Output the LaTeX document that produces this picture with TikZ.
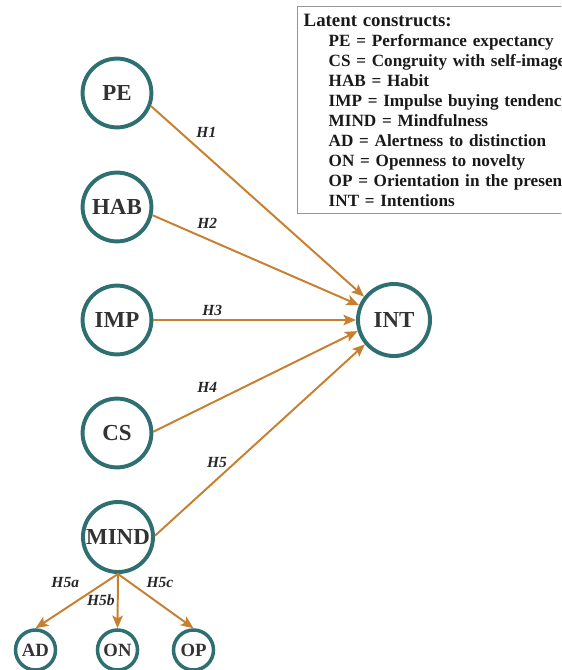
\documentclass[tikz,border=0pt]{standalone}
\usepackage{fontspec}
\setmainfont{Liberation Serif}
\usetikzlibrary{arrows.meta}
\definecolor{tealring}{RGB}{46,112,114}
\definecolor{pathorange}{RGB}{198,128,48}
\definecolor{keygray}{RGB}{150,150,150}
\begin{document}
\begin{tikzpicture}[x=0.025cm,y=-0.025cm,
  construct/.style={circle,draw=tealring,line width=2.8pt,minimum size=1.72cm,inner sep=0pt,text=black!80,font=\fontsize{16.3}{18}\selectfont\bfseries},
  subconstruct/.style={construct,minimum size=1cm,line width=2.5pt,font=\fontsize{13.3}{15}\selectfont\bfseries},
  hyp/.style={draw=pathorange,line width=1.4pt,-{Stealth[length=9pt,width=7.5pt,inset=2pt]}},
  hlabel/.style={inner sep=0pt,text=black!85,font=\fontsize{11}{13}\selectfont\bfseries\itshape}]

\clip (0,0) rectangle (561,670);

% Constructs
\node[construct] (PE) at (117,93) {PE};
\node[construct] (HAB) at (117,207) {HAB};
\node[construct] (IMP) at (117,320) {IMP};
\node[construct] (CS) at (117,433) {CS};
\node[construct,minimum size=1.75cm] (MIND) at (118,537) {MIND};
\node[construct,minimum size=1.8cm] (INT) at (394,320) {INT};

% Dimensions of mindfulness
\node[subconstruct] (AD) at (35.5,650) {AD};
\node[subconstruct] (ON) at (117.5,650) {ON};
\node[subconstruct] (OP) at (193.5,650) {OP};

% Hypotheses
\draw[hyp] (PE.-21) -- node[hlabel,pos=0.26,yshift=0.575cm] {H1} (INT.142);
\draw[hyp] (HAB.-13) -- node[hlabel,pos=0.265,yshift=0.4cm] {H2} (INT.157);
\draw[hyp] (IMP.east) -- node[hlabel,pos=0.29,yshift=0.25cm] {H3} (INT.180);
\draw[hyp] (CS.2) -- node[hlabel,pos=0.264,yshift=0.45cm] {H4} (INT.197);
\draw[hyp] (MIND.2) -- node[hlabel,pos=0.295,yshift=0.43cm] {H5} (INT.220);

\draw[hyp] (MIND.south) -- node[hlabel,pos=0.3,xshift=-0.7cm,yshift=0.2cm] {H5a} (AD.north);
\draw[hyp] (MIND.south) -- node[hlabel,pos=0.48,left=1.5pt] {H5b} (ON.north);
\draw[hyp] (MIND.south) -- node[hlabel,pos=0.3,xshift=0.48cm,yshift=0.2cm] {H5c} (OP.north);

% Legende
\node[draw=keygray,line width=1pt,anchor=north west,inner xsep=0.15cm,inner ysep=0pt,
  text width=8cm,minimum height=5.175cm,align=left,text=black!90,
  font=\fontsize{12.2}{14.23}\selectfont\bfseries] (key) at (297,6)
{{\fontsize{13.4}{14.23}\selectfont Latent constructs:}\\
\hspace*{0.625cm}PE = Performance expectancy\\
\hspace*{0.625cm}CS = Congruity with self-image\\
\hspace*{0.625cm}HAB = Habit\\
\hspace*{0.625cm}IMP = Impulse buying tendency\\
\hspace*{0.625cm}MIND = Mindfulness\\
\hspace*{0.625cm}AD = Alertness to distinction\\
\hspace*{0.625cm}ON = Openness to novelty\\
\hspace*{0.625cm}OP = Orientation in the present\\
\hspace*{0.625cm}INT = Intentions};

\end{tikzpicture}
\end{document}
